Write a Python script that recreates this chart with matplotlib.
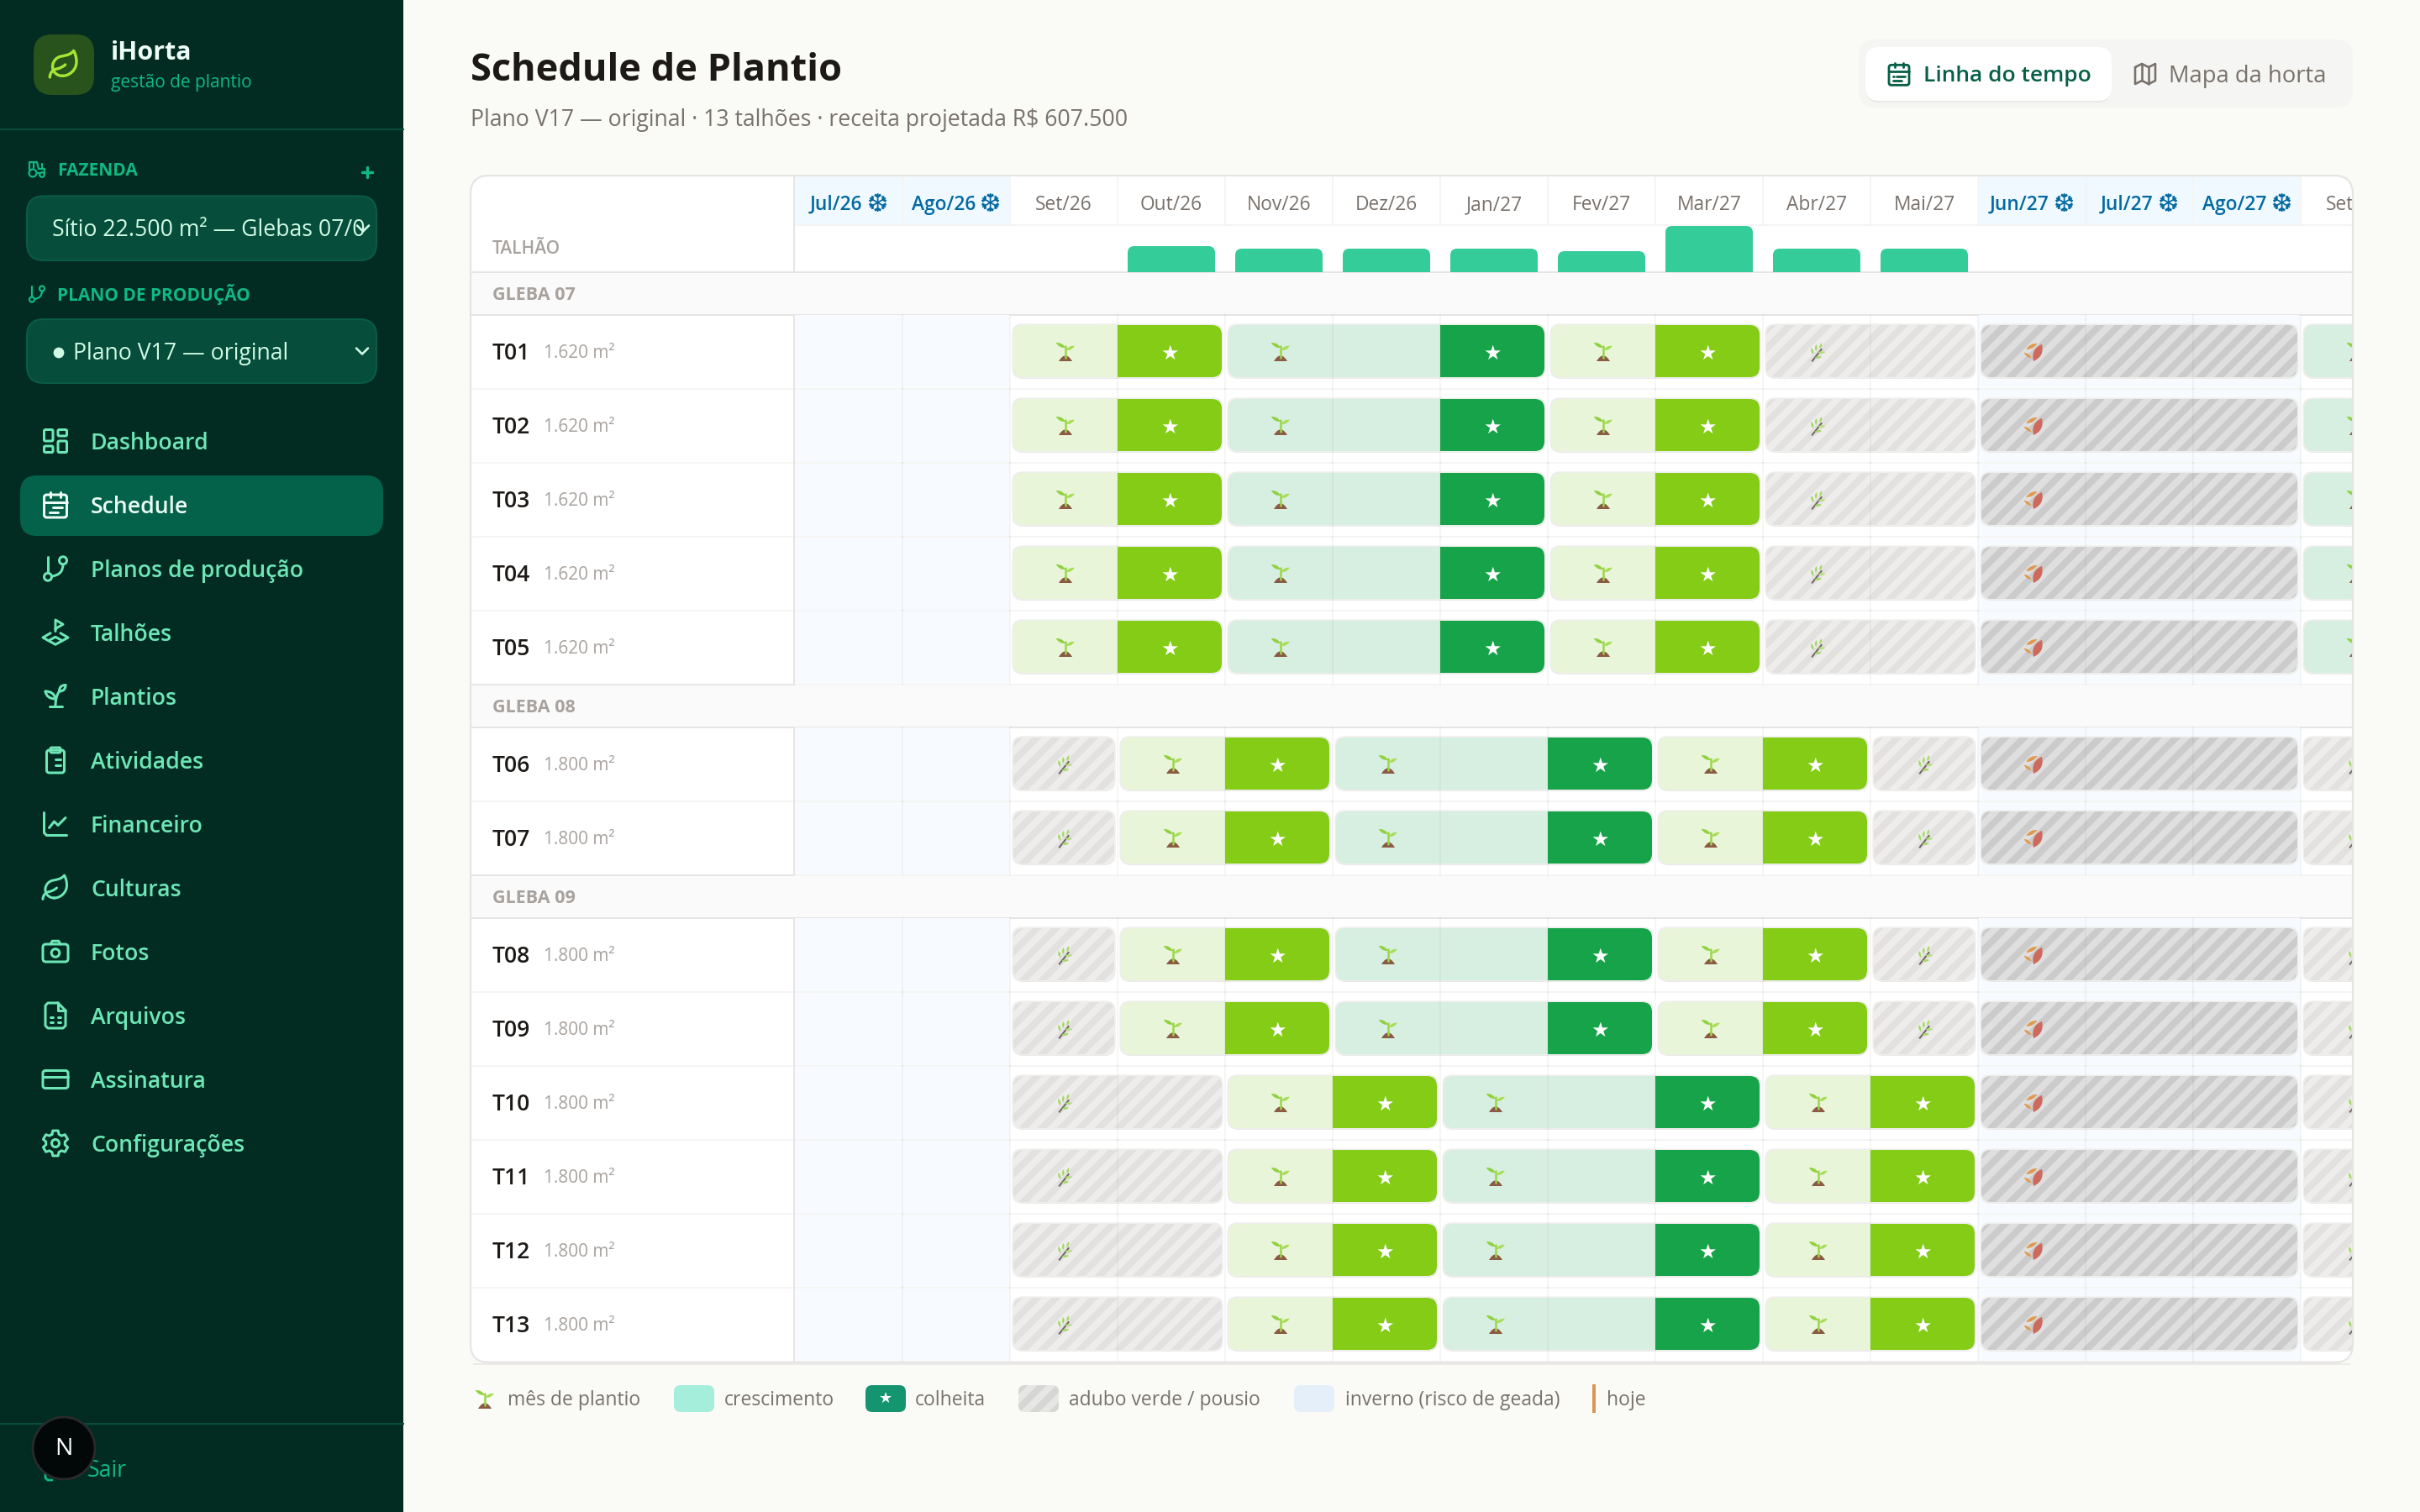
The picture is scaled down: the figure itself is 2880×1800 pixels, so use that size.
import math
import matplotlib
matplotlib.use("Agg")
import matplotlib.pyplot as plt
from matplotlib.patches import FancyBboxPatch, Rectangle, PathPatch, Circle
from matplotlib.path import Path
from matplotlib.transforms import Affine2D
from matplotlib.collections import PolyCollection

# Data
months = ["Jul/26", "Ago/26", "Set/26", "Out/26", "Nov/26", "Dez/26", "Jan/27", "Fev/27",
          "Mar/27", "Abr/27", "Mai/27", "Jun/27", "Jul/27", "Ago/27", "Set/27"]
winter_months = [0, 1, 11, 12, 13]
harvest_bars = [0, 0, 0, 15.5, 14, 14, 14, 12.5, 27.5, 14, 14, 0, 0, 0, 0]

cycle_a = [("lime", 2, 2), ("green", 4, 3), ("lime", 7, 2), ("adubo", 9, 2), ("pousio", 11, 3), ("green", 14, 3)]
cycle_b = [("adubo", 2, 1), ("lime", 3, 2), ("green", 5, 3), ("lime", 8, 2), ("adubo", 10, 1), ("pousio", 11, 3), ("adubo", 14, 1)]
cycle_c = [("adubo", 2, 2), ("lime", 4, 2), ("green", 6, 3), ("lime", 9, 2), ("pousio", 11, 3), ("adubo", 14, 1)]

glebas = ["GLEBA 07", "GLEBA 08", "GLEBA 09"]
gleba_07 = [("T01", "1.620 m²", cycle_a), ("T02", "1.620 m²", cycle_a), ("T03", "1.620 m²", cycle_a),
            ("T04", "1.620 m²", cycle_a), ("T05", "1.620 m²", cycle_a)]
gleba_08 = [("T06", "1.800 m²", cycle_b), ("T07", "1.800 m²", cycle_b)]
gleba_09 = [("T08", "1.800 m²", cycle_b), ("T09", "1.800 m²", cycle_b), ("T10", "1.800 m²", cycle_c),
            ("T11", "1.800 m²", cycle_c), ("T12", "1.800 m²", cycle_c), ("T13", "1.800 m²", cycle_c)]
gleba_rows = [gleba_07, gleba_08, gleba_09]

nav_labels = ["Dashboard", "Schedule", "Planos de produção", "Talhões", "Plantios", "Atividades",
              "Financeiro", "Culturas", "Fotos", "Arquivos", "Assinatura", "Configurações"]
nav_icons = ["dash", "calendar", "branch", "land", "sprout", "clipboard",
             "chart", "leaf", "camera", "file", "card", "gear"]

# colours
SIDE = "#022c22"
SIDE_LINE = "#064e3b"
SELECT = "#064e3b"
ACTIVE = "#04624a"
MINT = "#6ee7b7"
EMERALD = "#10b981"
PAGE = "#fafaf6"
STONE = "#78716c"
STONE_L = "#a8a29e"
INK = "#1c1917"
LINE = "#e7e5e4"
LINE_L = "#f5f5f4"

plt.rcParams["font.family"] = ["Open Sans", "DejaVu Sans"]

# everything is laid out in css pixels of the 1440x900 page
fig = plt.figure(figsize=(14.4, 9), dpi=200, facecolor=PAGE)
PAGE_W, PAGE_H = 1440, 900
COL = 64
X0 = 473
X1 = 1400
TOP = 104.5
BOTTOM = 811
FONT = 0.72 * 0.95  # css px to points, Open Sans runs a bit wider than the original font
TEXT_DY = 1.3


def css_axes(z):
    a = fig.add_axes([0, 0, 1, 1], zorder=z)
    a.set_xlim(0, PAGE_W)
    a.set_ylim(PAGE_H, 0)
    a.axis("off")
    return a


def box(a, x, y, w, h, r, fc, ec="none", lw=0, z=2, aspect=1):
    p = FancyBboxPatch((x, y), w, h, boxstyle=f"round,pad=0,rounding_size={r}", fc=fc, ec=ec, lw=lw,
                       zorder=z, mutation_aspect=aspect)
    a.add_patch(p)
    return p


def label(a, x, y, s, size, color, weight="normal", ha="left", z=6, **kw):
    return a.text(x, y + TEXT_DY, s, fontsize=size * FONT, color=color, fontweight=weight, ha=ha, va="center",
                  zorder=z, **kw)


def round_path(x, y, w, h, r):
    verts = [(x + r, y), (x + w - r, y), (x + w, y), (x + w, y + r), (x + w, y + h - r), (x + w, y + h),
             (x + w - r, y + h), (x + r, y + h), (x, y + h), (x, y + h - r), (x, y + r), (x, y), (x + r, y), (x + r, y)]
    codes = [Path.MOVETO, Path.LINETO, Path.CURVE3, Path.CURVE3, Path.LINETO, Path.CURVE3, Path.CURVE3,
             Path.LINETO, Path.CURVE3, Path.CURVE3, Path.LINETO, Path.CURVE3, Path.CURVE3, Path.CLOSEPOLY]
    return Path(verts, codes)


def poly(*pts):
    return Path(list(pts))


def curve(*pts):
    # first point, then pairs of control/end points
    codes = [Path.MOVETO] + [Path.CURVE3] * (len(pts) - 1)
    return Path(list(pts), codes)


def cubic(*pts):
    codes = [Path.MOVETO] + [Path.CURVE4] * (len(pts) - 1)
    return Path(list(pts), codes)


def gear_path():
    pts = []
    for k in range(6):
        a0 = math.radians(60 * k - 90)
        for da, r in [(-21, 7.6), (-12, 10.2), (12, 10.2), (21, 7.6)]:
            a1 = a0 + math.radians(da)
            pts.append((12 + r * math.cos(a1), 12 + r * math.sin(a1)))
    pts.append(pts[0])
    return Path(pts)


ICONS = {
    "dash": [round_path(3, 3, 7, 9, 1), round_path(14, 3, 7, 5, 1), round_path(14, 12, 7, 9, 1), round_path(3, 16, 7, 5, 1)],
    "calendar": [round_path(3, 4, 18, 18, 2), poly((8, 2), (8, 6)), poly((16, 2), (16, 6)), poly((3, 10), (21, 10)),
                 poly((10, 14), (17, 14)), poly((7, 14), (7.3, 14)), poly((7, 18), (14, 18)), poly((17, 18), (17.3, 18))],
    "land": [poly((12, 11), (12, 2), (18, 5.5), (12, 9)), poly((8, 12.5), (2, 16), (12, 21.5), (22, 16), (16, 12.5)),
             poly((6.5, 18.5), (12, 15.5), (17.5, 18.5))],
    "sprout": [poly((7, 20), (17, 20)), curve((12, 20), (12, 12), (15, 8)), curve((15, 8), (15, 3), (20, 3)),
               curve((20, 3), (20, 8), (15, 8)), curve((12, 14), (5, 14), (4, 8)), curve((4, 8), (11, 8), (12, 14))],
    "clipboard": [round_path(5, 4, 14, 18, 2), round_path(8, 2, 8, 4, 1), poly((12, 11), (16, 11)), poly((12, 16), (16, 16)),
                  poly((8, 11), (8.3, 11)), poly((8, 16), (8.3, 16))],
    "chart": [poly((3, 3), (3, 19), (5, 21), (21, 21)), poly((7, 15), (11, 10), (14, 13), (20, 7))],
    "leaf": [cubic((11, 20), (6.5, 20), (3.5, 16.5), (4, 12.5), (4.4, 9), (7, 6.7), (9.8, 6.1), (15.5, 5), (17, 4.48), (19, 2),
                   (20, 4), (21, 6.18), (21, 10), (21, 15.5), (16.22, 20), (11, 20)),
             cubic((2, 21), (2, 18), (3.85, 15.64), (7.08, 15), (9.5, 14.52), (12, 13), (13, 12))],
    "camera": [round_path(2, 6, 20, 14, 2.5), poly((8, 6), (9.5, 3.5), (14.5, 3.5), (16, 6)), Path.circle((12, 13), 3.2)],
    "file": [poly((14, 2), (6, 2), (4, 4), (4, 20), (6, 22), (18, 22), (20, 20), (20, 8), (14, 2)), poly((14, 2), (14, 8), (20, 8)),
             poly((8, 13), (10, 13)), poly((14, 13), (16, 13)), poly((8, 17), (10, 17)), poly((14, 17), (16, 17))],
    "card": [round_path(2, 5, 20, 14, 2), poly((2, 10), (22, 10))],
    "gear": [gear_path(), Path.circle((12, 12), 3)],
    "logout": [poly((9, 3), (5, 3), (3, 5), (3, 19), (5, 21), (9, 21)), poly((16, 17), (21, 12), (16, 7)), poly((21, 12), (9, 12))],
    "map": [poly((3, 6), (9, 3), (15, 6), (21, 3), (21, 18), (15, 21), (9, 18), (3, 21), (3, 6)), poly((9, 3), (9, 18)), poly((15, 6), (15, 21))],
    "branch": [Path.circle((6, 18.5), 3), Path.circle((18, 5.5), 3), poly((6, 2.5), (6, 15.5)), curve((18, 8.5), (18, 17), (9, 18))],
    "tractor": [Path.circle((7, 16), 4.5), Path.circle((18, 18), 2.8), poly((3, 12), (3, 3), (12, 3), (14, 11)), poly((8, 3), (8, 10)),
                poly((11.5, 16), (15, 16)), poly((14, 11), (21, 11), (21, 16)), poly((18, 11), (18, 5))],
    "plus": [poly((12, 5), (12, 19)), poly((5, 12), (19, 12))],
    "chevron": [poly((6, 9), (12, 15), (18, 9))],
}


def icon(a, name, cx, cy, size, color, lw=1.5, z=6):
    tr = Affine2D().translate(-12, -12).scale(size / 24).translate(cx, cy) + a.transData
    for path in ICONS[name]:
        a.add_patch(PathPatch(path, fill=False, ec=color, lw=lw * 0.72, transform=tr, zorder=z,
                              capstyle="round", joinstyle="round"))


def leaf(a, p0, p1, bulge, color, z=7):
    # small lens shaped leaf between two points
    mx, my = (p0[0] + p1[0]) / 2, (p0[1] + p1[1]) / 2
    nx, ny = -(p1[1] - p0[1]) * bulge, (p1[0] - p0[0]) * bulge
    verts = [p0, (mx + nx, my + ny), p1, (mx - nx, my - ny), p0, p0]
    codes = [Path.MOVETO, Path.CURVE3, Path.CURVE3, Path.CURVE3, Path.CURVE3, Path.CLOSEPOLY]
    a.add_patch(PathPatch(Path(verts, codes), fc=color, ec="none", zorder=z))


def sprout(a, cx, cy):
    a.add_patch(PathPatch(curve((cx - 3, cy + 5.5), (cx + 1, cy - 1.2), (cx + 5, cy + 5.5)), fc="#8a5a44", ec="none", zorder=7))
    a.plot([cx + 1, cx + 1], [cy - 3.5, cy + 3.5], color="#9bd648", lw=0.9, zorder=7, solid_capstyle="round")
    leaf(a, (cx + 1, cy - 2.5), (cx - 4.6, cy - 5.5), 0.32, "#90d13f")
    leaf(a, (cx + 1.2, cy - 1), (cx + 6.4, cy - 3.6), 0.32, "#a7de57")


def branch(a, cx, cy):
    a.plot([cx - 2.6, cx + 2.8], [cy + 5.3, cy - 1.5], color="#6f6161", lw=0.7, zorder=7)
    leaf(a, (cx - 2, cy + 1.5), (cx - 3.2, cy - 2.5), 0.35, "#a4d968")
    leaf(a, (cx - 0.5, cy - 0.5), (cx - 0.2, cy - 4.5), 0.35, "#a4d968")
    leaf(a, (cx + 1.8, cy - 2), (cx + 3, cy - 5.4), 0.35, "#a4d968")
    leaf(a, (cx + 0.8, cy + 0.4), (cx + 5.2, cy + 0.1), 0.35, "#b3e07a")
    leaf(a, (cx - 1.2, cy + 3.4), (cx + 3, cy + 3), 0.35, "#a4d968")


def autumn(a, cx, cy):
    leaf(a, (cx + 1, cy + 5.5), (cx + 6, cy - 4.6), 0.42, "#cd6a5d")
    leaf(a, (cx - 3.4, cy - 1.6), (cx + 3.2, cy - 5), 0.3, "#e09a4f")
    leaf(a, (cx - 4.6, cy + 0.4), (cx - 0.2, cy + 3.6), 0.3, "#e09a4f")


def stripes(a, x0, x1, top, bot, to_x, color):
    # 45 degree stripes, 8px period measured across the stripe
    period = 11.31
    h = bot - top
    polys = []
    x = x0 - h - period
    while x < x1:
        polys.append([(to_x(x), bot), (to_x(x + period / 2), bot),
                      (to_x(x + period / 2 + h), top), (to_x(x + h), top)])
        x += period
    c = PolyCollection(polys, facecolors=color, edgecolors="none", zorder=2.2)
    a.add_collection(c, autolim=False)
    return c


ui = css_axes(0)

# sidebar
ui.add_patch(Rectangle((0, 0), 240, PAGE_H, fc=SIDE, ec="none", zorder=1))
ui.plot([0, 240], [77, 77], color=SIDE_LINE, lw=0.72, zorder=2)
ui.plot([0, 240], [847.5, 847.5], color=SIDE_LINE, lw=0.72, zorder=2)
box(ui, 20, 20.5, 36, 36, 11, "#28531c", z=2)
icon(ui, "leaf", 38, 38.5, 20, "#a3e635", lw=1.7)
label(ui, 66, 30, "iHorta", 16, "#ecfdf5", "bold")
label(ui, 66, 48, "gestão de plantio", 11, EMERALD)

icon(ui, "tractor", 22, 101, 12, EMERALD, lw=1.1)
label(ui, 34, 100.5, "FAZENDA", 11, EMERALD, "bold")
icon(ui, "plus", 218.5, 102.5, 11, EMERALD, lw=1.7)
box(ui, 16, 116.7, 208, 38.3, 10, SELECT, ec="#0a5c46", lw=0.72)
farm = label(ui, 31, 135.5, "Sítio 22.500 m² — Glebas 07/08/09", 14, "#d1fae5")
farm.set_clip_path(Rectangle((31, 110), 186, 50, transform=ui.transData))
farm.set_clip_on(True)
icon(ui, "chevron", 216, 136, 14, "#d1fae5", lw=1.3, z=7)

icon(ui, "branch", 22, 175, 12, EMERALD, lw=1.1)
label(ui, 34, 174, "PLANO DE PRODUÇÃO", 11, EMERALD, "bold")
box(ui, 16, 190, 208, 38, 10, SELECT, ec="#0a5c46", lw=0.72)
ui.add_patch(Circle((35, 210), 3.2, fc="#d1fae5", ec="none", zorder=6))
label(ui, 43.5, 209, "Plano V17 — original", 14, "#d1fae5")
icon(ui, "chevron", 215.5, 209, 14, "#d1fae5", lw=1.3)

box(ui, 12, 283, 216, 36, 10, ACTIVE)
for i, (name, ic) in enumerate(zip(nav_labels, nav_icons)):
    yy = 263 + 38 * i
    col = "#ecfdf5" if name == "Schedule" else MINT
    icon(ui, ic, 33, yy - 0.5, 18, col, lw=1.5)
    label(ui, 54, yy - 0.5, name, 14, col, "semibold")

icon(ui, "logout", 33, 875, 16, EMERALD, lw=1.4)
label(ui, 52, 874, "Sair", 14, EMERALD)

# page header
label(ui, 280, 41, "Schedule de Plantio", 23.8, INK, "bold")
label(ui, 280, 70, "Plano V17 — original · 13 talhões · receita projetada R$ 607.500", 14, STONE)
box(ui, 1106, 23.5, 294, 40.5, 10, "#f5f5f3")
box(ui, 1110.2, 29, 146, 32, 8, "#e9e8e6", z=2)
box(ui, 1110, 28, 146.5, 32, 8, "white", z=3)
icon(ui, "calendar", 1130, 44, 16, "#065f46", lw=1.4)
label(ui, 1144.5, 44, "Linha do tempo", 13.9, "#065f46", "semibold")
icon(ui, "map", 1276.5, 44, 16, STONE, lw=1.3)
label(ui, 1290.5, 44, "Mapa da horta", 14.4, STONE)

# table frame and left column
box(ui, 280, TOP + 1, 1120, BOTTOM - TOP, 11, "#e9e8e6", z=1)
box(ui, 280, TOP, 1120, BOTTOM - TOP, 11, "white", z=2)
label(ui, 293, 146.7, "TALHÃO", 11, STONE_L, "semibold")
ui.plot([X0 - 0.5, X0 - 0.5], [TOP, 162], color=LINE, lw=0.72, zorder=3)

renderer = fig.canvas.get_renderer()
row_spans = []
y = 162
for gleba, rows in zip(glebas, gleba_rows):
    ui.add_patch(Rectangle((280, y), 1120, 25.5, fc="#fafafa", ec="none", zorder=3))
    ui.plot([280, 1400], [y, y], color=LINE, lw=0.72, zorder=4)
    ui.plot([280, 1400], [y + 25.5, y + 25.5], color=LINE, lw=0.72, zorder=4)
    label(ui, 293, y + 12.5, gleba, 11.3, STONE_L, "bold")
    y += 25.5
    ui.plot([X0 - 0.5, X0 - 0.5], [y, y + 44 * len(rows)], color=LINE, lw=0.72, zorder=3)
    for k, (plot_id, area, spans) in enumerate(rows):
        name_txt = label(ui, 293, y + 21.5, plot_id, 14, INK, "semibold")
        name_w = name_txt.get_window_extent(renderer).width / 2
        label(ui, 293 + name_w + 8, y + 21.5, area, 11, STONE_L)
        ui.plot([280, X0 - 1], [y + 44, y + 44], color=LINE_L, lw=0.72, zorder=2.5)
        row_spans.append((y, spans))
        y += 44

# gantt area: x in months, y in page pixels
gantt = fig.add_axes([X0 / PAGE_W, 1 - BOTTOM / PAGE_H, (X1 - X0) / PAGE_W, (BOTTOM - TOP) / PAGE_H], zorder=1)
gantt.set_xlim(0, (X1 - X0) / COL)
gantt.set_ylim(BOTTOM, TOP)
gantt.axis("off")

# histogram strip under the month labels
hist = fig.add_axes([X0 / PAGE_W, 1 - 162 / PAGE_H, (X1 - X0) / PAGE_W, 28 / PAGE_H], zorder=2)
hist.set_xlim(0, (X1 - X0) / COL)
hist.set_ylim(0, 28)
hist.axis("off")
for i, v in enumerate(harvest_bars):
    if v > 0:
        box(hist, i + 6 / COL, -6, 52 / COL, v + 6, 4 / COL, "#34cc98", aspect=COL)

top = css_axes(4)


def css_x(m):
    return X0 + m * COL


def to_month(x):
    return (x - X0) / COL


for i, m in enumerate(months):
    winter = i in winter_months
    if winter:
        gantt.add_patch(Rectangle((i, TOP), 1, 134 - TOP, fc="#f0f9ff", ec="none", zorder=1))
    mt = gantt.text(i + 0.5, 122, m, fontsize=12 * FONT, color="#0369a1" if winter else STONE,
                    fontweight="semibold" if winter else "normal", ha="center", va="center", zorder=6, clip_on=True)
    if winter:
        flake = gantt.text(i + 0.5, 122, "❆", fontsize=15 * 0.72, color="#0369a1", ha="left", va="center",
                           zorder=6, family="DejaVu Sans")
        w_m = mt.get_window_extent(renderer).width / 2
        w_f = flake.get_window_extent(renderer).width / 2
        start = i + 0.5 - (w_m + 2 + w_f) / 2 / COL
        mt.set_ha("left")
        mt.set_x(start)
        flake.set_x(start + (w_m + 2) / COL)
gantt.plot([0, 15], [134, 134], color=LINE_L, lw=0.72, zorder=1)
for i in range(1, 15):
    gantt.plot([i, i], [TOP, 134], color=LINE_L, lw=0.72, zorder=1.5)

for row_top, spans in row_spans:
    for i in winter_months:
        gantt.add_patch(Rectangle((i, row_top), 1, 44, fc="#f7fbff", ec="none", zorder=1))
    gantt.plot([0, 15], [row_top + 44, row_top + 44], color=LINE_L, lw=0.72, zorder=1.2)
    for i in range(1, 15):
        gantt.plot([i, i], [row_top, row_top + 44], color="black", alpha=0.035, lw=0.72, zorder=2.6)

    bar_top = row_top + 6
    bar_h = 31
    cy = row_top + 22
    for kind, m0, n in spans:
        x = m0 + 2 / COL
        w = n - 4 / COL
        rr = 6 / COL
        box(gantt, x, bar_top + 1, w, bar_h, rr, "#e4e4e2", z=1.6, aspect=COL)
        box(gantt, x - 0.8 / COL, bar_top - 0.8, w + 1.6 / COL, bar_h + 1.6, rr, "#eeeeec", z=1.7, aspect=COL)
        base = {"lime": "#e8f5d9", "green": "#d7efe0", "adubo": "#eeedeb", "pousio": "#dfdfdf"}[kind]
        bar = box(gantt, x, bar_top, w, bar_h, rr, base, z=2, aspect=COL)
        cx_first = css_x(m0) + COL / 2
        if kind in ("lime", "green"):
            end = {"lime": "#84cc16", "green": "#16a34a"}[kind]
            if m0 + n - 1 < 14.5:
                cap = box(gantt, x, bar_top, w, bar_h, rr, end, z=3, aspect=COL)
                cap.set_clip_path(Rectangle((m0 + n - 1, row_top), 1, 44, transform=gantt.transData))
                gantt.text(m0 + n - 0.5 - 0.8 / COL, cy + 0.8, "★", fontsize=12 * 0.72, color="white", ha="center",
                           va="center", zorder=6, family="DejaVu Sans")
            sprout(top, cx_first, cy)
        else:
            color = "#e2e1df" if kind == "adubo" else "#cbcbcb"
            st = stripes(gantt, css_x(m0) + 2, css_x(m0 + n) - 2, bar_top, bar_top + bar_h, to_month, color)
            st.set_clip_path(bar)
            if kind == "adubo":
                branch(top, cx_first, cy)
            else:
                autumn(top, cx_first, cy)

# mask everything outside the rounded table, then draw its border
table_hole = round_path(280, TOP, 1120, BOTTOM - TOP, 11).to_polygons()[0]
outer = Path([(272, 98), (1440, 98), (1440, 816), (272, 816), (272, 98)])
hole = Path(table_hole[::-1])
mask = Path.make_compound_path(outer, hole)
top.add_patch(PathPatch(mask, fc=PAGE, ec="none", zorder=20))
top.add_patch(PathPatch(round_path(280, TOP, 1120, BOTTOM - TOP, 11), fill=False, ec=LINE, lw=0.8, zorder=21))
top.plot([282, 1398], [BOTTOM + 0.9, BOTTOM + 0.9], color="#eceae7", lw=0.72, zorder=21)

# legend
leg_y = 832.3
LEG = 12.05
sprout(top, 287.5, 833)
label(top, 302, leg_y, "mês de plantio", LEG, STONE)
box(top, 401, 824.5, 24, 16, 4, "#a5eedb", z=3)
label(top, 431, leg_y, "crescimento", LEG, STONE)
box(top, 515, 824.5, 24, 16, 4, "#149570", z=3)
top.text(527, 832.5, "★", fontsize=9 * 0.72, color="white", ha="center", va="center", zorder=6, family="DejaVu Sans")
label(top, 544.5, leg_y, "colheita", LEG, STONE)
swatch = box(top, 606, 824.5, 24, 16, 4, "#e6e6e4", z=3)
sw = stripes(top, 606, 630, 824.5, 840.5, lambda v: v, "#d6d6d4")
sw.set_zorder(4)
sw.set_clip_path(swatch)
label(top, 636, leg_y, "adubo verde / pousio", LEG, STONE)
box(top, 770, 824.5, 24, 16, 4, "#e4eff9", z=3)
label(top, 800.5, leg_y, "inverno (risco de geada)", LEG, STONE)
top.add_patch(Rectangle((947.5, 824), 1.8, 17, fc="#d99654", ec="none", zorder=5))
label(top, 956, leg_y, "hoje", LEG, STONE)

# dev badge over the sidebar
top.add_patch(Circle((38, 862), 18.5, fc="#020808", ec="#2a2a2c", lw=1, zorder=30))
label(top, 38, 861, "N", 15, "white", "normal", ha="center", z=31)

fig.savefig("out.png", dpi=200, facecolor=PAGE)
